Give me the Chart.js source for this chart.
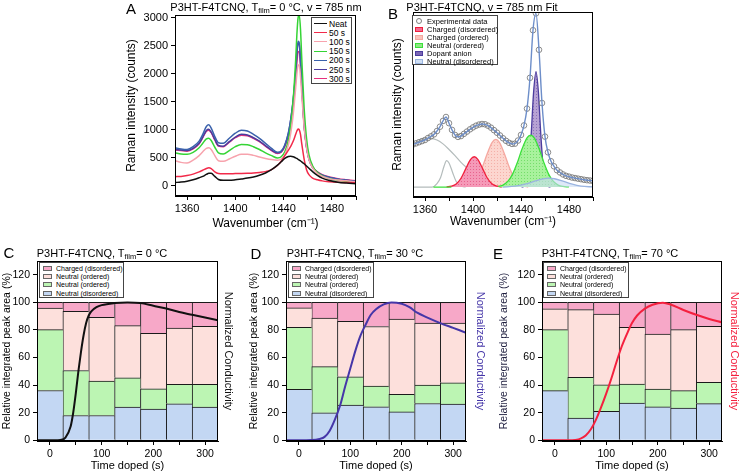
<!DOCTYPE html>
<html>
<head>
<meta charset="utf-8">
<script src="https://cdn.jsdelivr.net/npm/chart.js@4.4.1/dist/chart.umd.min.js"></script>
<style>
  body { margin: 0; background: #fff; }
  #fig { position: relative; width: 741px; height: 474px; overflow: hidden;
         font-family: "Liberation Sans", Arial, sans-serif; color: #000; }
  #fig canvas { position: absolute; }
  .lbl { position: absolute; white-space: nowrap; line-height: 1; transform: translate(-50%, -50%); }
  .letter { font-size: 15px; }
  .ttl { font-size: 11px; }
  .ttl sub { font-size: 7.5px; vertical-align: -2px; line-height: 0; }
  .leg { position: absolute; background: #fff; border: 1px solid #444; box-sizing: border-box;
         padding: 1px 0 0 2px; color: #000; }
  .leg .row { display: flex; align-items: center; white-space: nowrap; color: #000; }
  .leg .key { display: inline-block; box-sizing: border-box; flex: none; }
</style>
</head>
<body>
<div id="fig">
  <canvas id="cA" width="243" height="236" style="left:122px;top:0px"></canvas>
  <canvas id="cB" width="215" height="236" style="left:385px;top:0px"></canvas>
  <canvas id="cC" width="240" height="229" style="left:0px;top:245px"></canvas>
  <canvas id="cD" width="241" height="229" style="left:247px;top:245px"></canvas>
  <canvas id="cE" width="244" height="229" style="left:497px;top:245px"></canvas>

  <div class="lbl letter" style="left:131px;top:8px">A</div>
  <div class="lbl letter" style="left:393px;top:13px">B</div>
  <div class="lbl letter" style="left:9px;top:252px">C</div>
  <div class="lbl letter" style="left:256px;top:253px">D</div>
  <div class="lbl letter" style="left:498px;top:253px">E</div>

  <div class="lbl ttl" style="left:266px;top:7px">P3HT-F4TCNQ, T<sub>film</sub>= 0 °C, v = 785 nm</div>
  <div class="lbl ttl" style="left:482px;top:7px">P3HT-F4TCNQ, v = 785 nm Fit</div>
  <div class="lbl ttl" style="left:102px;top:253px">P3HT-F4TCNQ, T<sub>film</sub>= 0 °C</div>
  <div class="lbl ttl" style="left:355px;top:253px">P3HT-F4TCNQ, T<sub>film</sub>= 30 °C</div>
  <div class="lbl ttl" style="left:610px;top:253px">P3HT-F4TCNQ, T<sub>film</sub>= 70 °C</div>

  <div id="legA" class="leg" style="left:311px;top:17px;width:41px;height:67px"></div>
  <div id="legB" class="leg" style="left:412px;top:15px;width:86px;height:50px"></div>
  <div id="legC" class="leg" style="left:39px;top:262px;width:85px;height:36px"></div>
  <div id="legD" class="leg" style="left:288px;top:262px;width:86px;height:36px"></div>
  <div id="legE" class="leg" style="left:543px;top:262px;width:86px;height:36px"></div>
</div>
<script>
// ---- A: spectra vs doping time (counts)
var wnA = [1350, 1355, 1360, 1365, 1370, 1373, 1376, 1378, 1380, 1383, 1386, 1390, 1395, 1400, 1405,
  1410, 1415, 1420, 1425, 1430, 1435, 1438, 1441, 1444, 1446, 1448, 1450, 1451, 1452, 1453,
  1454, 1455, 1457, 1459, 1461, 1464, 1468, 1472, 1478, 1485, 1492, 1500];
var neat = [60, 70, 85, 110, 145, 170, 205, 225, 225, 170, 115, 100, 100, 110, 125,
  140, 160, 190, 230, 290, 370, 430, 490, 525, 530, 520, 500, 490, 475, 460,
  445, 430, 395, 355, 315, 255, 190, 140, 95, 65, 50, 40];
var s50 = [165, 170, 185, 210, 250, 280, 310, 325, 310, 250, 220, 215, 215, 220, 222,
  225, 230, 240, 255, 290, 370, 440, 540, 640, 710, 800, 920, 980, 1015, 1000,
  920, 760, 480, 290, 200, 140, 110, 90, 75, 65, 60, 55];
var s100 = [450, 420, 410, 460, 540, 610, 670, 680, 650, 540, 450, 440, 480, 530, 565,
  565, 545, 515, 490, 470, 460, 480, 560, 740, 950, 1280, 1750, 2000, 2150, 2160,
  1950, 1650, 1050, 680, 470, 320, 220, 170, 130, 105, 90, 75];
var s150 = [590, 570, 565, 600, 680, 760, 840, 850, 810, 690, 590, 570, 630, 700, 740,
  735, 700, 650, 590, 540, 500, 520, 610, 820, 1100, 1550, 2250, 2700, 3000, 3050,
  2800, 2300, 1400, 850, 560, 360, 240, 180, 130, 100, 80, 65];
var s200 = [680, 660, 650, 700, 800, 920, 1060, 1090, 1030, 880, 770, 760, 850, 940, 995,
  980, 920, 850, 760, 670, 600, 620, 730, 950, 1200, 1550, 2050, 2400, 2580, 2550,
  2250, 1850, 1100, 700, 480, 330, 240, 190, 150, 120, 100, 80];
var s250 = [650, 640, 630, 670, 760, 870, 990, 1010, 960, 830, 720, 710, 790, 870, 920,
  910, 860, 800, 720, 640, 590, 610, 720, 940, 1190, 1530, 2000, 2350, 2540, 2520,
  2230, 1830, 1090, 700, 480, 330, 240, 190, 150, 120, 100, 80];
var s300 = [640, 630, 620, 660, 750, 860, 975, 995, 950, 820, 710, 700, 780, 860, 905,
  895, 850, 790, 710, 630, 580, 600, 700, 900, 1130, 1450, 1900, 2200, 2390, 2400,
  2150, 1780, 1080, 700, 490, 340, 250, 200, 160, 130, 110, 90];
var specLabels = ["Neat", "50 s", "100 s", "150 s", "200 s", "250 s", "300 s"];

// ---- B: fit of one spectrum
var wnB = [1350, 1352.5, 1355, 1357.5, 1360, 1362.5, 1365, 1367.5, 1370, 1372.5,
  1375, 1377.5, 1380, 1382.5, 1385, 1387.5, 1390, 1392.5, 1395, 1397.5,
  1400, 1402.5, 1405, 1407.5, 1410, 1412.5, 1415, 1417.5, 1420, 1422.5,
  1425, 1427.5, 1430, 1432.5, 1435, 1437.5, 1440, 1442.5, 1445, 1447.5,
  1450, 1452.5, 1455, 1457.5, 1460, 1462.5, 1465, 1467.5, 1470, 1472.5,
  1475, 1477.5, 1480, 1482.5, 1485, 1487.5, 1490, 1492.5, 1495, 1497.5, 1500];
var expB = [760, 780, 800, 820, 840, 875, 905, 940, 1000, 1077,
  1180, 1250, 1140, 1020, 930, 895, 910, 950, 990, 1030,
  1065, 1095, 1115, 1125, 1120, 1095, 1060, 1015, 970, 920,
  870, 825, 790, 770, 775, 830, 930, 1100, 1400, 1950,
  2800, 3100, 2450, 1500, 900, 620, 460, 370, 300, 260,
  225, 200, 185, 170, 160, 150, 140, 130, 122, 116, 110];
var chgDisX = [1378, 1382, 1386, 1390, 1394, 1398, 1401, 1404, 1408, 1412, 1416, 1420, 1424];
var chgDisY = [2, 14, 54, 157, 328, 493, 541, 493, 328, 157, 54, 14, 2];
var chgOrdX = [1396, 1400, 1404, 1408, 1412, 1416, 1419, 1422, 1426, 1430, 1434, 1438, 1442, 1446];
var chgOrdY = [22, 70, 179, 368, 605, 799, 850, 799, 605, 368, 179, 70, 22, 0];
var neuOrdX = [1367, 1382, 1400, 1421, 1425, 1429, 1433, 1437, 1441, 1445, 1448, 1451, 1455, 1459, 1463, 1467, 1471, 1475, 1480];
var neuOrdY = [0, 0, null, 10, 35, 100, 231, 440, 686, 878, 928, 878, 686, 440, 231, 100, 35, 10, 2];
var anionX = [1440.5, 1442.5, 1444.5, 1446.5, 1448.5, 1450.5, 1452.5, 1454.5, 1456.5, 1458.5, 1460.5, 1462.5, 1464.5];
var anionY = [0, 15, 91, 354, 943, 1695, 2060, 1695, 943, 354, 91, 15, 0];
var neuDisX = [1425, 1435, 1445, 1452, 1458, 1463, 1468, 1475, 1482, 1490, 1500];
var neuDisY = [0, 15, 60, 110, 145, 160, 148, 105, 55, 15, 2];
var grayBroadX = [1350, 1355, 1360, 1365, 1370, 1375, 1380, 1385, 1390, 1395, 1400, 1405, 1410, 1415, 1420, 1425];
var grayBroadY = [760, 820, 860, 870, 840, 770, 670, 560, 440, 340, 250, 170, 100, 50, 20, 0];
var grayNarrowX = [1350, 1360, 1366, 1370, 1373, 1376, 1378, 1380, 1383, 1386, 1390, 1394];
var grayNarrowY = [0, 0, 0, 60, 170, 380, 470, 430, 260, 100, 20, 0];

// ---- C, D, E: peak-area fractions (%) per doping time, bottom to top
var timesBar = [0, 50, 100, 150, 200, 250, 300];
var neuDisC = [36.1, 18.0, 18.0, 24.1, 22.7, 26.5, 24.1];
var neuOrdGC = [44.1, 32.6, 24.9, 21.2, 14.6, 14.0, 16.4];
var neuOrdPC = [15.7, 42.9, 46.3, 37.8, 40.3, 40.9, 42.2];
var chgDisC = [4.1, 6.5, 10.8, 16.9, 22.4, 18.6, 17.3];
var neuDisD = [37.0, 20.0, 25.5, 24.3, 20.6, 26.7, 26.2];
var neuOrdGD = [45.0, 33.4, 20.6, 15.0, 12.7, 13.3, 15.5];
var neuOrdPD = [14.0, 35.2, 40.1, 43.2, 54.6, 45.0, 43.3];
var chgDisD = [4.0, 11.4, 13.8, 17.5, 12.1, 15.0, 15.0];
var neuDisE = [36.0, 16.2, 21.0, 27.0, 24.2, 23.4, 26.6];
var neuOrdGE = [44.2, 29.5, 19.3, 13.8, 13.0, 12.6, 15.4];
var neuOrdPE = [15.2, 49.0, 51.2, 41.1, 39.8, 44.2, 40.6];
var chgDisE = [4.6, 5.3, 8.5, 18.1, 23.0, 19.8, 17.4];

// normalized conductivity vs time
var condTC = [-25, 0, 10, 20, 30, 40, 45, 50, 55, 60, 65, 70, 75, 80, 90, 100, 125, 150, 175, 200, 225, 250, 275, 300, 325];
var condC = [0, 0, 0, 0.003, 0.02, 0.10, 0.20, 0.34, 0.50, 0.64, 0.76, 0.85, 0.905, 0.935, 0.965, 0.98, 0.995, 1.0, 0.995, 0.975, 0.955, 0.93, 0.91, 0.89, 0.87];
var condTD = [-25, 0, 25, 40, 50, 60, 70, 80, 90, 100, 110, 120, 130, 140, 150, 165, 180, 200, 215, 230, 250, 275, 300, 325];
var condD = [0, 0, 0.002, 0.01, 0.025, 0.07, 0.15, 0.25, 0.39, 0.52, 0.65, 0.76, 0.84, 0.91, 0.95, 0.985, 1.0, 0.99, 0.965, 0.925, 0.89, 0.85, 0.815, 0.78];
var condTE = [-25, 0, 25, 40, 50, 60, 70, 80, 90, 100, 110, 120, 130, 140, 150, 160, 175, 190, 210, 225, 250, 275, 300, 325];
var condE = [0, 0, 0, 0.003, 0.012, 0.035, 0.08, 0.15, 0.24, 0.34, 0.45, 0.57, 0.68, 0.77, 0.85, 0.905, 0.955, 0.983, 0.998, 0.985, 0.945, 0.91, 0.88, 0.855];

// tick values
var wnTicks = [1360, 1380, 1400, 1420, 1440, 1460, 1480, 1500];
var countTicks = [0, 500, 1000, 1500, 2000, 2500, 3000];
var pctTicks = [0, 20, 40, 60, 80, 100, 120];
var timeTicks = [0, 50, 100, 150, 200, 250, 300];

Chart.defaults.font.family = '"Liberation Sans", Arial, sans-serif';
Chart.defaults.color = '#000';

function xy(xs, ys) {
  return xs.map(function (x, i) { return { x: x, y: ys[i] }; });
}
function sizeTo(px) {
  return function (scale) {
    if (scale.isHorizontal()) scale.height = px; else scale.width = px;
  };
}
function setTicks(vals) {
  return function (scale) {
    scale.ticks = vals.map(function (v) { return { value: v }; });
  };
}
function plain(v) { return String(v); }
function dots(fill, dot) {
  var c = document.createElement('canvas');
  c.width = 3; c.height = 3;
  var g = c.getContext('2d');
  g.fillStyle = fill; g.fillRect(0, 0, 3, 3);
  g.fillStyle = dot; g.fillRect(1, 1, 1, 1);
  return g.createPattern(c, 'repeat');
}

// box around the plot area
var frame = {
  id: 'frame',
  afterDraw: function (chart) {
    var a = chart.chartArea, c = chart.ctx;
    c.save();
    c.strokeStyle = '#000';
    c.lineWidth = 1;
    c.strokeRect(Math.round(a.left) + 0.5, Math.round(a.top) + 0.5,
      Math.round(a.right - a.left) - 1, Math.round(a.bottom - a.top) - 1);
    c.restore();
  }
};

var axisGrid = { drawOnChartArea: false, tickLength: 4, color: '#000' };

// ---------- A
var specSeries = [neat, s50, s100, s150, s200, s250, s300];
var specColors = ['#111111', '#f22a4a', '#f7a3ad', '#35d435', '#3a62ac', '#4b3c9e', '#e6307e'];

var chartA = new Chart(document.getElementById('cA'), {
  type: 'line',
  data: {
    datasets: specSeries.map(function (ys, i) {
      return {
        label: specLabels[i], data: xy(wnA, ys), borderColor: specColors[i],
        borderWidth: 1.5, pointRadius: 0, cubicInterpolationMode: 'monotone', fill: false
      };
    })
  },
  options: {
    responsive: false, animation: false, events: [],
    layout: { padding: { top: 15, right: 9, bottom: 0, left: 0 } },
    plugins: { legend: { display: false }, tooltip: { enabled: false } },
    scales: {
      x: {
        type: 'linear', min: 1350, max: 1500,
        afterBuildTicks: setTicks(wnTicks), afterFit: sizeTo(40),
        ticks: { autoSkip: false, maxRotation: 0, padding: 2, font: { size: 11 },
          callback: function (v) { return v % 40 === 0 ? String(v) : ''; } },
        grid: axisGrid, border: { color: '#000' },
        title: { display: true, text: 'Wavenumber (cm⁻¹)', font: { size: 12 }, padding: { top: 0, bottom: 5 } }
      },
      y: {
        min: -180, max: 3050,
        afterBuildTicks: setTicks(countTicks), afterFit: sizeTo(53),
        ticks: { padding: 3, font: { size: 11 }, callback: plain },
        grid: axisGrid, border: { color: '#000' },
        title: { display: true, text: 'Raman intensity (counts)', font: { size: 12 }, padding: { top: 2, bottom: 0 } }
      }
    }
  },
  plugins: [frame]
});

// ---------- B
var chartB = new Chart(document.getElementById('cB'), {
  type: 'line',
  data: {
    datasets: [
      { label: 'Experimental data', data: xy(wnB, expB), showLine: false, order: 1,
        pointRadius: 2.8, pointBorderWidth: 0.9, pointBorderColor: '#7e7e7e',
        pointBackgroundColor: 'rgba(0,0,0,0)', borderColor: '#7e7e7e', key: 'circle' },
      { label: 'Charged (disordered)', data: xy(chgDisX, chgDisY), order: 5,
        borderColor: '#f0203c', backgroundColor: dots('#f59ab8', '#e8628e'), fill: 'origin', swatch: '#f36a92' },
      { label: 'Charged (ordered)', data: xy(chgOrdX, chgOrdY), order: 6,
        borderColor: '#f5a8a0', backgroundColor: dots('#fcd6cf', '#f4b0a8'), fill: 'origin', swatch: '#f9c4bc' },
      { label: 'Neutral (ordered)', data: xy(neuOrdX, neuOrdY), order: 3,
        borderColor: '#3ae03a', backgroundColor: dots('#a9f29d', '#74de6a'), fill: 'origin', swatch: '#8ee884' },
      { label: 'Dopant anion', data: xy(anionX, anionY), order: 4,
        borderColor: '#4b3c9e', backgroundColor: dots('#b7a2d4', '#8a72b8'), fill: 'origin', swatch: '#7a66b4' },
      { label: 'Neutral (disordered)', data: xy(neuDisX, neuDisY), order: 2,
        borderColor: '#9ab4e0', backgroundColor: 'rgba(200,218,244,0.6)', fill: 'origin', swatch: '#cfdff4' },
      { data: xy(wnB, expB), order: 0, borderColor: '#6d8ec9', borderWidth: 1.4 },
      { data: xy(grayBroadX, grayBroadY), order: 8, borderColor: '#b4bcbc', borderWidth: 1.2 },
      { data: xy(grayNarrowX, grayNarrowY), order: 7, borderColor: '#b4bcbc', borderWidth: 1.2 }
    ]
  },
  options: {
    responsive: false, animation: false, events: [],
    layout: { padding: { top: 12, right: 7, bottom: 0, left: 0 } },
    elements: { line: { borderWidth: 1.3, cubicInterpolationMode: 'monotone' }, point: { radius: 0 } },
    plugins: { legend: { display: false }, tooltip: { enabled: false } },
    scales: {
      x: {
        type: 'linear', min: 1350, max: 1500,
        afterBuildTicks: setTicks(wnTicks), afterFit: sizeTo(39),
        ticks: { autoSkip: false, maxRotation: 0, padding: 2, font: { size: 11 },
          callback: function (v) { return v % 40 === 0 ? String(v) : ''; } },
        grid: axisGrid, border: { color: '#000' },
        title: { display: true, text: 'Wavenumber (cm⁻¹)', font: { size: 12 }, padding: { top: 0, bottom: 7 } }
      },
      y: {
        min: -178, max: 3125, afterFit: sizeTo(28),
        ticks: { display: false }, grid: { display: false }, border: { color: '#000' },
        title: { display: true, text: 'Raman intensity (counts)', font: { size: 12 }, padding: { top: 5, bottom: 0 } }
      }
    }
  },
  plugins: [frame]
});

// ---------- C, D, E
var barColors = { neuDis: '#c3d7f3', neuOrdG: '#bcf5b3', neuOrdP: '#fde0dc', chgDis: '#f7a8c8' };

function barPanel(id, parts, condT, condV, condColor, yWidth, y2Width, y2Pad, yTitleColor) {
  var sets = [
    { type: 'line', data: xy(condT, condV), yAxisID: 'y2', borderColor: condColor, borderWidth: 2,
      pointRadius: 0, cubicInterpolationMode: 'monotone', fill: false }
  ];
  var names = ['Neutral (disordered)', 'Neutral (ordered)', 'Neutral (ordered)', 'Charged (disordered)'];
  var cols = [barColors.neuDis, barColors.neuOrdG, barColors.neuOrdP, barColors.chgDis];
  parts.forEach(function (vals, i) {
    sets.push({
      type: 'bar', label: names[i], data: xy(timesBar, vals), yAxisID: 'y',
      backgroundColor: cols[i], borderColor: '#1a1a1a',
      borderWidth: { top: 1, left: 1, right: 0, bottom: 0 }, borderSkipped: false,
      barPercentage: 1, categoryPercentage: 1
    });
  });
  return new Chart(document.getElementById(id), {
    type: 'bar',
    data: { datasets: sets },
    options: {
      responsive: false, animation: false, events: [],
      layout: { padding: { top: 16, right: 0, bottom: 0, left: 0 } },
      plugins: { legend: { display: false }, tooltip: { enabled: false } },
      scales: {
        x: {
          type: 'linear', min: -25, max: 325, offset: false, stacked: true,
          afterBuildTicks: setTicks(timeTicks), afterFit: sizeTo(33),
          ticks: { autoSkip: false, maxRotation: 0, padding: 3, font: { size: 10.5 },
            callback: function (v) { return v % 100 === 0 ? String(v) : ''; } },
          grid: { drawOnChartArea: false, tickLength: 4, color: '#000', offset: false },
          border: { color: '#000' },
          title: { display: true, text: 'Time doped (s)', font: { size: 11 }, padding: { top: 0, bottom: 1 } }
        },
        y: {
          stacked: true, min: -0.5, max: 130,
          afterBuildTicks: setTicks(pctTicks), afterFit: sizeTo(yWidth),
          ticks: { padding: 3, font: { size: 10.5 }, callback: plain },
          grid: axisGrid, border: { color: '#000' },
          title: { display: true, text: 'Relative integrated peak area (%)', color: yTitleColor,
            font: { size: 10.5 }, padding: { top: 1, bottom: 0 } }
        },
        y2: {
          position: 'right', min: -0.005, max: 1.3, afterFit: sizeTo(y2Width),
          ticks: { display: false }, grid: { display: false }, border: { display: false },
          title: { display: true, text: 'Normalized Conductivity', color: condColor,
            font: { size: 11 }, padding: { top: y2Pad, bottom: 0 } }
        }
      }
    },
    plugins: [frame]
  });
}

var chartC = barPanel('cC', [neuDisC, neuOrdGC, neuOrdPC, chgDisC], condTC, condC, '#111111', 37, 22, 5.4, '#000');
var chartD = barPanel('cD', [neuDisD, neuOrdGD, neuOrdPD, chgDisD], condTD, condD, '#4536a8', 39, 22, 1.4, '#000');
var chartE = barPanel('cE', [neuDisE, neuOrdGE, neuOrdPE, chgDisE], condTE, condE, '#f4203e', 45, 19, 0, '#1e1e3e');

// ---------- HTML legends built from the chart datasets
function addRow(el, keyEl, text, fontPx, rowPx) {
  var row = document.createElement('div');
  row.className = 'row';
  row.style.height = rowPx + 'px';
  row.style.fontSize = fontPx + 'px';
  row.appendChild(keyEl);
  var t = document.createElement('span');
  t.textContent = text;
  t.style.color = '#000';
  row.appendChild(t);
  el.appendChild(row);
}

chartA.data.datasets.forEach(function (ds) {
  var k = document.createElement('span');
  k.className = 'key';
  k.style.width = '13px'; k.style.height = '0px'; k.style.marginRight = '2px';
  k.style.borderTop = '1.5px solid ' + ds.borderColor;
  addRow(document.getElementById('legA'), k, ds.label, 8.5, 9.2);
});

chartB.data.datasets.forEach(function (ds) {
  if (!ds.label) return;
  var k = document.createElement('span');
  k.className = 'key';
  k.style.marginRight = '4px';
  if (ds.key === 'circle') {
    k.style.width = '6px'; k.style.height = '6px'; k.style.margin = '0 5px 0 1px';
    k.style.borderRadius = '50%'; k.style.border = '1px solid ' + ds.pointBorderColor;
  } else {
    k.style.width = '8px'; k.style.height = '5px';
    k.style.background = ds.swatch; k.style.border = '1px solid ' + ds.borderColor;
  }
  addRow(document.getElementById('legB'), k, ds.label, 7.5, 8);
});

[[chartC, 'legC'], [chartD, 'legD'], [chartE, 'legE']].forEach(function (p) {
  var bars = p[0].data.datasets.filter(function (ds) { return ds.type === 'bar'; }).reverse();
  bars.forEach(function (ds) {
    var k = document.createElement('span');
    k.className = 'key';
    k.style.width = '9px'; k.style.height = '5px'; k.style.margin = '0 4px 0 1px';
    k.style.background = ds.backgroundColor; k.style.border = '1px solid #666';
    addRow(document.getElementById(p[1]), k, ds.label, 7, 8.3);
  });
});
</script>
</body>
</html>
